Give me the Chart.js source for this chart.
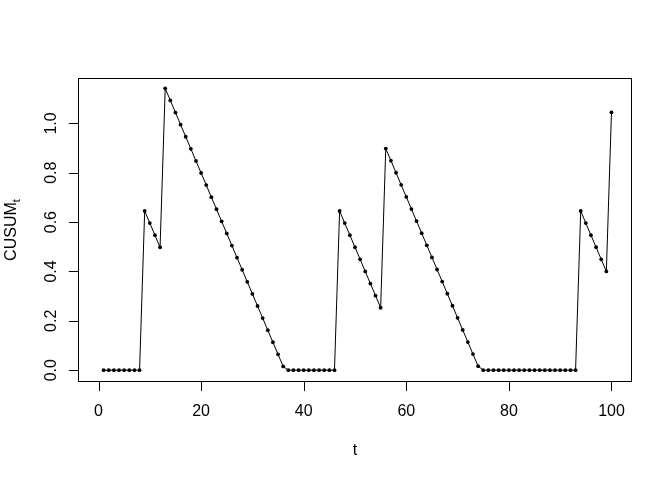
<!DOCTYPE html>
<html><head><meta charset="utf-8">
<script src="https://cdn.jsdelivr.net/npm/chart.js@4/dist/chart.umd.min.js"></script>
<style>html,body{margin:0;padding:0;background:#fff}canvas{display:block}</style>
</head><body>
<canvas id="c" width="672" height="480"></canvas>
<script>
const tValues = [1,2,3,4,5,6,7,8,9,10,11,12,13,14,15,16,17,18,19,20,
  21,22,23,24,25,26,27,28,29,30,31,32,33,34,35,36,37,38,39,40,
  41,42,43,44,45,46,47,48,49,50,51,52,53,54,55,56,57,58,59,60,
  61,62,63,64,65,66,67,68,69,70,71,72,73,74,75,76,77,78,79,80,
  81,82,83,84,85,86,87,88,89,90,91,92,93,94,95,96,97,98,99,100];
const cusum = [0,0,0,0,0,0,0,0,
  0.645,0.596,0.547,0.498,
  1.142,1.093,1.044,0.995,0.946,0.897,0.848,0.799,0.750,0.701,0.652,0.603,
  0.554,0.505,0.456,0.407,0.358,0.309,0.260,0.211,0.162,0.113,0.064,0.015,
  0,0,0,0,0,0,0,0,0,0,
  0.645,0.596,0.547,0.498,0.449,0.400,0.351,0.302,0.253,
  0.898,0.849,0.800,0.751,0.702,0.653,0.604,0.555,0.506,0.457,0.408,
  0.359,0.310,0.261,0.212,0.163,0.114,0.065,0.016,
  0,0,0,0,0,0,0,0,0,0,0,0,0,0,0,0,0,0,0,
  0.645,0.596,0.547,0.498,0.449,0.400,
  1.045];
const xTicks = [0,20,40,60,80,100];
const xTickLabels = ["0","20","40","60","80","100"];
const yTicks = [0,0.2,0.4,0.6,0.8,1.0];
const yTickLabels = ["0.0","0.2","0.4","0.6","0.8","1.0"];
const xTitle = "t";
const yTitleMain = "CUSUM";
const yTitleSub = "t";

const FONT = '"Liberation Sans", Arial, sans-serif';

const rAxes = {
  id: 'rAxes',
  afterDraw(chart) {
    const {ctx, chartArea: a, scales: {x, y}} = chart;
    ctx.save();
    ctx.strokeStyle = '#000';
    ctx.lineWidth = 1;
    const L = Math.round(a.left) + 0.5, R = Math.round(a.right) - 0.5;
    const T = Math.round(a.top) + 0.5, B = Math.round(a.bottom) - 0.5;
    ctx.strokeRect(L, T, R - L, B - T);
    ctx.beginPath();
    xTicks.forEach(v => {
      const px = Math.round(x.getPixelForValue(v)) + 0.5;
      ctx.moveTo(px, B); ctx.lineTo(px, B + 9.6);
    });
    yTicks.forEach(v => {
      const py = Math.round(y.getPixelForValue(v)) + 0.5;
      ctx.moveTo(L, py); ctx.lineTo(L - 9.6, py);
    });
    ctx.stroke();
    ctx.fillStyle = '#000';
    ctx.font = '16px ' + FONT;
    ctx.textAlign = 'center';
    ctx.textBaseline = 'alphabetic';
    xTicks.forEach((v, i) => {
      ctx.fillText(xTickLabels[i], x.getPixelForValue(v), 416);
    });
    yTicks.forEach((v, i) => {
      ctx.save();
      ctx.translate(56, y.getPixelForValue(v));
      ctx.rotate(-Math.PI / 2);
      ctx.fillText(yTickLabels[i], 0, 0);
      ctx.restore();
    });
    // x title
    ctx.fillText(xTitle, (a.left + a.right) / 2, 455);
    // y title with subscript
    ctx.save();
    ctx.translate(16, (a.top + a.bottom) / 2);
    ctx.rotate(-Math.PI / 2);
    ctx.font = '16px ' + FONT;
    const w1 = ctx.measureText(yTitleMain).width;
    ctx.font = '11.2px ' + FONT;
    const w2 = ctx.measureText(yTitleSub).width;
    const start = -(w1 + w2) / 2;
    ctx.textAlign = 'left';
    ctx.font = '16px ' + FONT;
    ctx.fillText(yTitleMain, start, 0);
    ctx.font = '11.2px ' + FONT;
    ctx.fillText(yTitleSub, start + w1, 3.5);
    ctx.restore();
    ctx.restore();
  }
};

new Chart(document.getElementById('c'), {
  type: 'line',
  data: {
    datasets: [{
      data: tValues.map((t, i) => ({x: t, y: cusum[i]})),
      borderColor: '#000',
      borderWidth: 1,
      backgroundColor: '#000',
      pointBackgroundColor: '#000',
      pointBorderWidth: 0,
      pointRadius: 1.9,
      pointHoverRadius: 1.9,
      tension: 0,
      fill: false
    }]
  },
  options: {
    responsive: false,
    animation: false,
    devicePixelRatio: 1,
    layout: {padding: {left: 78, right: 40, top: 78, bottom: 98}},
    plugins: {legend: {display: false}, tooltip: {enabled: false}},
    scales: {
      x: {type: 'linear', min: -4, max: 104, display: false},
      y: {type: 'linear', min: -0.048, max: 1.184, display: false}
    }
  },
  plugins: [rAxes]
});
</script>
</body></html>
